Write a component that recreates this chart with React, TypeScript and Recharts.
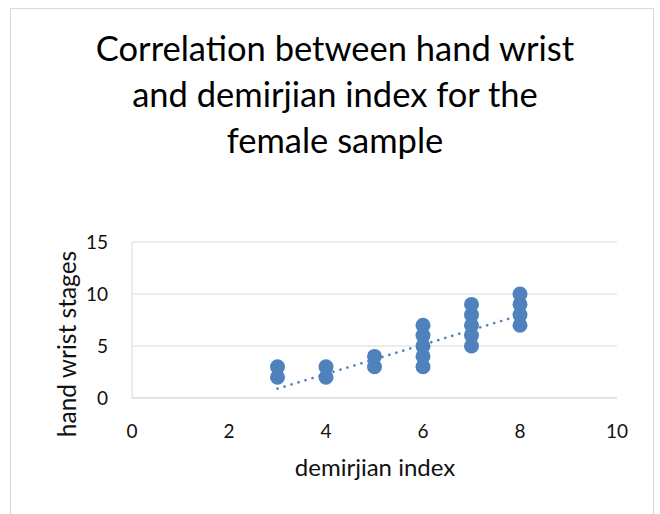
import { CartesianGrid, Scatter, ScatterChart, XAxis, YAxis } from 'recharts';

const titleLines = ['Correlation between hand wrist', 'and demirjian index for the', 'female sample'];
const xTitle = 'demirjian index';
const yTitle = 'hand wrist stages';

const demirjian = [3, 3, 4, 4, 5, 5, 6, 6, 6, 6, 6, 7, 7, 7, 7, 7, 8, 8, 8, 8];
const handWrist = [2, 3, 2, 3, 3, 4, 3, 4, 5, 6, 7, 5, 6, 7, 8, 9, 7, 8, 9, 10];

const trendX = [3, 8];
const trendY = [0.9, 7.95];

const xTicks = [0, 2, 4, 6, 8, 10];
const yTicks = [0, 5, 10, 15];

const points = demirjian.map((x, i) => ({ x, y: handWrist[i] }));
const trend = trendX.map((x, i) => ({ x, y: trendY[i] }));

const font = 'Lato, "Open Sans", sans-serif';
const blue = '#4f81bd';
const ink = '#111';

const Dot = (props: any) => <circle cx={props.cx} cy={props.cy} r={7.5} fill={blue} />;

export default function App() {
  return (
    <div
      style={{
        position: 'absolute',
        left: 0,
        top: 0,
        width: 660,
        height: 514,
        background: '#fff',
        overflow: 'hidden',
        fontFamily: font,
        color: ink,
      }}
    >
      <div
        style={{
          position: 'absolute',
          left: 10,
          top: 8,
          width: 642,
          height: 530,
          border: '1px solid #d9d9d9',
        }}
      />
      <div
        style={{
          position: 'absolute',
          left: 10,
          top: 25,
          width: 650,
          textAlign: 'center',
          fontSize: 34.5,
          lineHeight: '46px',
          color: '#000',
        }}
      >
        {titleLines.map((t) => (
          <div key={t}>{t}</div>
        ))}
      </div>
      <div style={{ position: 'absolute', left: 0, top: 0 }}>
        <ScatterChart width={660} height={514} margin={{ top: 242, right: 43, bottom: 86, left: 92 }}>
          <CartesianGrid horizontal vertical={false} stroke="#d9d9d9" />
          <XAxis
            type="number"
            dataKey="x"
            domain={[0, 10]}
            ticks={xTicks}
            height={30}
            tickLine={false}
            tickMargin={21}
            axisLine={{ stroke: '#d9d9d9' }}
            tick={{ fill: ink, fontSize: 19, fontFamily: font }}
          />
          <YAxis
            type="number"
            dataKey="y"
            domain={[0, 15]}
            ticks={yTicks}
            width={40}
            tickLine={false}
            tickMargin={18}
            axisLine={{ stroke: '#d9d9d9' }}
            tick={{ fill: ink, fontSize: 19, fontFamily: font }}
          />
          <Scatter data={points} shape={Dot} isAnimationActive={false} />
          <Scatter
            data={trend}
            shape={() => <g />}
            line={{ stroke: blue, strokeWidth: 2.6, strokeDasharray: '0.1 7.2', strokeLinecap: 'round' }}
            lineType="joint"
            isAnimationActive={false}
          />
        </ScatterChart>
      </div>
      <div
        style={{
          position: 'absolute',
          left: 67,
          top: 344,
          transform: 'translate(-50%, -50%) rotate(-90deg)',
          whiteSpace: 'nowrap',
          fontSize: 24.5,
          lineHeight: 1,
        }}
      >
        {yTitle}
      </div>
      <div
        style={{
          position: 'absolute',
          left: 375,
          top: 455,
          transform: 'translateX(-50%)',
          whiteSpace: 'nowrap',
          fontSize: 24,
          lineHeight: 1,
        }}
      >
        {xTitle}
      </div>
    </div>
  );
}
